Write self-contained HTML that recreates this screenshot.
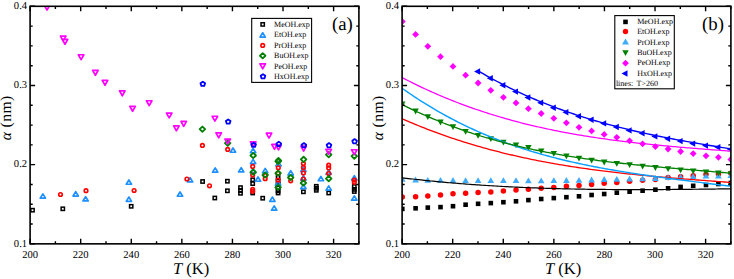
<!DOCTYPE html>
<html><head><meta charset="utf-8"><style>html,body{margin:0;padding:0;background:#fff;}body{width:734px;height:279px;overflow:hidden;font-family:"Liberation Serif",serif;}svg{display:block;}</style></head><body>
<svg width="734" height="279" viewBox="0 0 734 279" font-family='"Liberation Serif", serif' fill="#000" text-rendering="geometricPrecision">
<rect width="734" height="279" fill="#fff"/>
<defs><clipPath id="cl"><rect x="30.1" y="6.3" width="328.79999999999995" height="237.54999999999998"/></clipPath><clipPath id="cr"><rect x="402.1" y="6.3" width="328.79999999999995" height="237.54999999999998"/></clipPath></defs>
<g clip-path="url(#cl)">
<rect x="30.85" y="208.55" width="3.30" height="3.30" fill="none" stroke="#000000" stroke-width="1.5"/>
<rect x="61.15" y="207.15" width="3.30" height="3.30" fill="none" stroke="#000000" stroke-width="1.5"/>
<rect x="129.55" y="204.65" width="3.30" height="3.30" fill="none" stroke="#000000" stroke-width="1.5"/>
<rect x="200.95" y="179.85" width="3.30" height="3.30" fill="none" stroke="#000000" stroke-width="1.5"/>
<rect x="213.15" y="196.35" width="3.30" height="3.30" fill="none" stroke="#000000" stroke-width="1.5"/>
<rect x="225.75" y="179.55" width="3.30" height="3.30" fill="none" stroke="#000000" stroke-width="1.5"/>
<rect x="225.75" y="189.15" width="3.30" height="3.30" fill="none" stroke="#000000" stroke-width="1.5"/>
<rect x="238.85" y="185.95" width="3.30" height="3.30" fill="none" stroke="#000000" stroke-width="1.5"/>
<rect x="238.85" y="188.85" width="3.30" height="3.30" fill="none" stroke="#000000" stroke-width="1.5"/>
<rect x="238.85" y="191.65" width="3.30" height="3.30" fill="none" stroke="#000000" stroke-width="1.5"/>
<rect x="251.05" y="178.15" width="3.30" height="3.30" fill="none" stroke="#000000" stroke-width="1.5"/>
<rect x="251.05" y="181.95" width="3.30" height="3.30" fill="none" stroke="#000000" stroke-width="1.5"/>
<rect x="251.05" y="191.35" width="3.30" height="3.30" fill="none" stroke="#000000" stroke-width="1.5"/>
<rect x="261.05" y="196.55" width="3.30" height="3.30" fill="none" stroke="#000000" stroke-width="1.5"/>
<rect x="276.45" y="175.35" width="3.30" height="3.30" fill="none" stroke="#000000" stroke-width="1.5"/>
<rect x="276.45" y="179.35" width="3.30" height="3.30" fill="none" stroke="#000000" stroke-width="1.5"/>
<rect x="276.45" y="182.85" width="3.30" height="3.30" fill="none" stroke="#000000" stroke-width="1.5"/>
<rect x="276.45" y="186.35" width="3.30" height="3.30" fill="none" stroke="#000000" stroke-width="1.5"/>
<rect x="276.45" y="189.25" width="3.30" height="3.30" fill="none" stroke="#000000" stroke-width="1.5"/>
<rect x="276.45" y="191.35" width="3.30" height="3.30" fill="none" stroke="#000000" stroke-width="1.5"/>
<rect x="301.75" y="190.15" width="3.30" height="3.30" fill="none" stroke="#000000" stroke-width="1.5"/>
<rect x="314.65" y="184.65" width="3.30" height="3.30" fill="none" stroke="#000000" stroke-width="1.5"/>
<rect x="314.65" y="186.65" width="3.30" height="3.30" fill="none" stroke="#000000" stroke-width="1.5"/>
<rect x="314.65" y="188.65" width="3.30" height="3.30" fill="none" stroke="#000000" stroke-width="1.5"/>
<rect x="327.05" y="191.35" width="3.30" height="3.30" fill="none" stroke="#000000" stroke-width="1.5"/>
<rect x="352.65" y="184.85" width="3.30" height="3.30" fill="none" stroke="#000000" stroke-width="1.5"/>
<rect x="352.65" y="187.75" width="3.30" height="3.30" fill="none" stroke="#000000" stroke-width="1.5"/>
<rect x="352.65" y="189.85" width="3.30" height="3.30" fill="none" stroke="#000000" stroke-width="1.5"/>
<path d="M42.90,193.85L45.55,198.15L40.25,198.15Z" fill="none" stroke="#1e90ff" stroke-width="1.7" stroke-linejoin="round"/>
<path d="M75.70,191.75L78.35,196.05L73.05,196.05Z" fill="none" stroke="#1e90ff" stroke-width="1.7" stroke-linejoin="round"/>
<path d="M85.60,196.65L88.25,200.95L82.95,200.95Z" fill="none" stroke="#1e90ff" stroke-width="1.7" stroke-linejoin="round"/>
<path d="M128.90,179.95L131.55,184.25L126.25,184.25Z" fill="none" stroke="#1e90ff" stroke-width="1.7" stroke-linejoin="round"/>
<path d="M128.90,197.05L131.55,201.35L126.25,201.35Z" fill="none" stroke="#1e90ff" stroke-width="1.7" stroke-linejoin="round"/>
<path d="M180.00,191.95L182.65,196.25L177.35,196.25Z" fill="none" stroke="#1e90ff" stroke-width="1.7" stroke-linejoin="round"/>
<path d="M190.10,177.65L192.75,181.95L187.45,181.95Z" fill="none" stroke="#1e90ff" stroke-width="1.7" stroke-linejoin="round"/>
<path d="M215.20,167.85L217.85,172.15L212.55,172.15Z" fill="none" stroke="#1e90ff" stroke-width="1.7" stroke-linejoin="round"/>
<path d="M233.00,147.95L235.65,152.25L230.35,152.25Z" fill="none" stroke="#1e90ff" stroke-width="1.7" stroke-linejoin="round"/>
<path d="M241.20,167.65L243.85,171.95L238.55,171.95Z" fill="none" stroke="#1e90ff" stroke-width="1.7" stroke-linejoin="round"/>
<path d="M253.10,148.45L255.75,152.75L250.45,152.75Z" fill="none" stroke="#1e90ff" stroke-width="1.7" stroke-linejoin="round"/>
<path d="M253.10,159.35L255.75,163.65L250.45,163.65Z" fill="none" stroke="#1e90ff" stroke-width="1.7" stroke-linejoin="round"/>
<path d="M253.10,168.65L255.75,172.95L250.45,172.95Z" fill="none" stroke="#1e90ff" stroke-width="1.7" stroke-linejoin="round"/>
<path d="M258.00,176.95L260.65,181.25L255.35,181.25Z" fill="none" stroke="#1e90ff" stroke-width="1.7" stroke-linejoin="round"/>
<path d="M265.20,168.35L267.85,172.65L262.55,172.65Z" fill="none" stroke="#1e90ff" stroke-width="1.7" stroke-linejoin="round"/>
<path d="M272.40,197.05L275.05,201.35L269.75,201.35Z" fill="none" stroke="#1e90ff" stroke-width="1.7" stroke-linejoin="round"/>
<path d="M274.20,205.85L276.85,210.15L271.55,210.15Z" fill="none" stroke="#1e90ff" stroke-width="1.7" stroke-linejoin="round"/>
<path d="M278.50,161.65L281.15,165.95L275.85,165.95Z" fill="none" stroke="#1e90ff" stroke-width="1.7" stroke-linejoin="round"/>
<path d="M278.10,180.85L280.75,185.15L275.45,185.15Z" fill="none" stroke="#1e90ff" stroke-width="1.7" stroke-linejoin="round"/>
<path d="M290.70,170.75L293.35,175.05L288.05,175.05Z" fill="none" stroke="#1e90ff" stroke-width="1.7" stroke-linejoin="round"/>
<path d="M303.40,167.15L306.05,171.45L300.75,171.45Z" fill="none" stroke="#1e90ff" stroke-width="1.7" stroke-linejoin="round"/>
<path d="M303.40,175.75L306.05,180.05L300.75,180.05Z" fill="none" stroke="#1e90ff" stroke-width="1.7" stroke-linejoin="round"/>
<path d="M303.40,184.35L306.05,188.65L300.75,188.65Z" fill="none" stroke="#1e90ff" stroke-width="1.7" stroke-linejoin="round"/>
<path d="M320.90,176.45L323.55,180.75L318.25,180.75Z" fill="none" stroke="#1e90ff" stroke-width="1.7" stroke-linejoin="round"/>
<path d="M328.70,169.85L331.35,174.15L326.05,174.15Z" fill="none" stroke="#1e90ff" stroke-width="1.7" stroke-linejoin="round"/>
<path d="M328.70,185.85L331.35,190.15L326.05,190.15Z" fill="none" stroke="#1e90ff" stroke-width="1.7" stroke-linejoin="round"/>
<path d="M354.30,175.75L356.95,180.05L351.65,180.05Z" fill="none" stroke="#1e90ff" stroke-width="1.7" stroke-linejoin="round"/>
<path d="M354.30,195.85L356.95,200.15L351.65,200.15Z" fill="none" stroke="#1e90ff" stroke-width="1.7" stroke-linejoin="round"/>
<circle cx="60.50" cy="194.50" r="1.80" fill="none" stroke="#ff0000" stroke-width="1.6"/>
<circle cx="86.00" cy="190.70" r="1.80" fill="none" stroke="#ff0000" stroke-width="1.6"/>
<circle cx="134.10" cy="190.50" r="1.80" fill="none" stroke="#ff0000" stroke-width="1.6"/>
<circle cx="186.90" cy="179.00" r="1.80" fill="none" stroke="#ff0000" stroke-width="1.6"/>
<circle cx="202.40" cy="145.40" r="1.80" fill="none" stroke="#ff0000" stroke-width="1.6"/>
<circle cx="209.50" cy="185.80" r="1.80" fill="none" stroke="#ff0000" stroke-width="1.6"/>
<circle cx="227.70" cy="149.40" r="1.80" fill="none" stroke="#ff0000" stroke-width="1.6"/>
<circle cx="252.70" cy="166.40" r="1.80" fill="none" stroke="#ff0000" stroke-width="1.6"/>
<circle cx="252.70" cy="175.00" r="1.80" fill="none" stroke="#ff0000" stroke-width="1.6"/>
<circle cx="252.70" cy="189.40" r="1.80" fill="none" stroke="#ff0000" stroke-width="1.6"/>
<circle cx="252.70" cy="191.30" r="1.80" fill="none" stroke="#ff0000" stroke-width="1.6"/>
<circle cx="265.20" cy="175.50" r="1.80" fill="none" stroke="#ff0000" stroke-width="1.6"/>
<circle cx="265.20" cy="178.70" r="1.80" fill="none" stroke="#ff0000" stroke-width="1.6"/>
<circle cx="278.10" cy="161.00" r="1.80" fill="none" stroke="#ff0000" stroke-width="1.6"/>
<circle cx="278.30" cy="167.80" r="1.80" fill="none" stroke="#ff0000" stroke-width="1.6"/>
<circle cx="278.10" cy="173.20" r="1.80" fill="none" stroke="#ff0000" stroke-width="1.6"/>
<circle cx="278.10" cy="180.10" r="1.80" fill="none" stroke="#ff0000" stroke-width="1.6"/>
<circle cx="290.70" cy="180.80" r="1.80" fill="none" stroke="#ff0000" stroke-width="1.6"/>
<circle cx="303.40" cy="163.50" r="1.80" fill="none" stroke="#ff0000" stroke-width="1.6"/>
<circle cx="303.40" cy="167.40" r="1.80" fill="none" stroke="#ff0000" stroke-width="1.6"/>
<circle cx="303.40" cy="172.90" r="1.80" fill="none" stroke="#ff0000" stroke-width="1.6"/>
<circle cx="303.40" cy="179.10" r="1.80" fill="none" stroke="#ff0000" stroke-width="1.6"/>
<circle cx="328.70" cy="165.20" r="1.80" fill="none" stroke="#ff0000" stroke-width="1.6"/>
<circle cx="328.70" cy="167.90" r="1.80" fill="none" stroke="#ff0000" stroke-width="1.6"/>
<circle cx="328.70" cy="173.60" r="1.80" fill="none" stroke="#ff0000" stroke-width="1.6"/>
<circle cx="354.30" cy="180.10" r="1.80" fill="none" stroke="#ff0000" stroke-width="1.6"/>
<circle cx="354.30" cy="182.20" r="1.80" fill="none" stroke="#ff0000" stroke-width="1.6"/>
<path d="M202.40,126.55L205.15,129.20L202.40,131.85L199.65,129.20Z" fill="none" stroke="#008000" stroke-width="1.8" stroke-linejoin="round"/>
<path d="M227.70,140.55L230.45,143.20L227.70,145.85L224.95,143.20Z" fill="none" stroke="#008000" stroke-width="1.8" stroke-linejoin="round"/>
<path d="M253.20,152.85L255.95,155.50L253.20,158.15L250.45,155.50Z" fill="none" stroke="#008000" stroke-width="1.8" stroke-linejoin="round"/>
<path d="M253.20,169.55L255.95,172.20L253.20,174.85L250.45,172.20Z" fill="none" stroke="#008000" stroke-width="1.8" stroke-linejoin="round"/>
<path d="M265.20,172.35L267.95,175.00L265.20,177.65L262.45,175.00Z" fill="none" stroke="#008000" stroke-width="1.8" stroke-linejoin="round"/>
<path d="M278.50,157.95L281.25,160.60L278.50,163.25L275.75,160.60Z" fill="none" stroke="#008000" stroke-width="1.8" stroke-linejoin="round"/>
<path d="M278.10,158.75L280.85,161.40L278.10,164.05L275.35,161.40Z" fill="none" stroke="#008000" stroke-width="1.8" stroke-linejoin="round"/>
<path d="M278.10,170.55L280.85,173.20L278.10,175.85L275.35,173.20Z" fill="none" stroke="#008000" stroke-width="1.8" stroke-linejoin="round"/>
<path d="M278.10,184.65L280.85,187.30L278.10,189.95L275.35,187.30Z" fill="none" stroke="#008000" stroke-width="1.8" stroke-linejoin="round"/>
<path d="M290.70,174.85L293.45,177.50L290.70,180.15L287.95,177.50Z" fill="none" stroke="#008000" stroke-width="1.8" stroke-linejoin="round"/>
<path d="M303.60,156.75L306.35,159.40L303.60,162.05L300.85,159.40Z" fill="none" stroke="#008000" stroke-width="1.8" stroke-linejoin="round"/>
<path d="M303.40,180.35L306.15,183.00L303.40,185.65L300.65,183.00Z" fill="none" stroke="#008000" stroke-width="1.8" stroke-linejoin="round"/>
<path d="M328.70,152.05L331.45,154.70L328.70,157.35L325.95,154.70Z" fill="none" stroke="#008000" stroke-width="1.8" stroke-linejoin="round"/>
<path d="M328.70,175.95L331.45,178.60L328.70,181.25L325.95,178.60Z" fill="none" stroke="#008000" stroke-width="1.8" stroke-linejoin="round"/>
<path d="M354.30,153.45L357.05,156.10L354.30,158.75L351.55,156.10Z" fill="none" stroke="#008000" stroke-width="1.8" stroke-linejoin="round"/>
<path d="M44.25,5.15L49.75,5.15L47.00,10.05Z" fill="none" stroke="#ff00ff" stroke-width="1.7" stroke-linejoin="round"/>
<path d="M60.45,36.05L65.95,36.05L63.20,40.95Z" fill="none" stroke="#ff00ff" stroke-width="1.7" stroke-linejoin="round"/>
<path d="M62.25,39.35L67.75,39.35L65.00,44.25Z" fill="none" stroke="#ff00ff" stroke-width="1.7" stroke-linejoin="round"/>
<path d="M78.35,54.75L83.85,54.75L81.10,59.65Z" fill="none" stroke="#ff00ff" stroke-width="1.7" stroke-linejoin="round"/>
<path d="M92.65,70.35L98.15,70.35L95.40,75.25Z" fill="none" stroke="#ff00ff" stroke-width="1.7" stroke-linejoin="round"/>
<path d="M102.25,80.35L107.75,80.35L105.00,85.25Z" fill="none" stroke="#ff00ff" stroke-width="1.7" stroke-linejoin="round"/>
<path d="M119.55,90.85L125.05,90.85L122.30,95.75Z" fill="none" stroke="#ff00ff" stroke-width="1.7" stroke-linejoin="round"/>
<path d="M129.85,106.35L135.35,106.35L132.60,111.25Z" fill="none" stroke="#ff00ff" stroke-width="1.7" stroke-linejoin="round"/>
<path d="M146.45,100.75L151.95,100.75L149.20,105.65Z" fill="none" stroke="#ff00ff" stroke-width="1.7" stroke-linejoin="round"/>
<path d="M166.45,113.05L171.95,113.05L169.20,117.95Z" fill="none" stroke="#ff00ff" stroke-width="1.7" stroke-linejoin="round"/>
<path d="M173.65,125.95L179.15,125.95L176.40,130.85Z" fill="none" stroke="#ff00ff" stroke-width="1.7" stroke-linejoin="round"/>
<path d="M180.95,121.45L186.45,121.45L183.70,126.35Z" fill="none" stroke="#ff00ff" stroke-width="1.7" stroke-linejoin="round"/>
<path d="M212.15,116.25L217.65,116.25L214.90,121.15Z" fill="none" stroke="#ff00ff" stroke-width="1.7" stroke-linejoin="round"/>
<path d="M215.95,132.85L221.45,132.85L218.70,137.75Z" fill="none" stroke="#ff00ff" stroke-width="1.7" stroke-linejoin="round"/>
<path d="M224.95,139.05L230.45,139.05L227.70,143.95Z" fill="none" stroke="#ff00ff" stroke-width="1.7" stroke-linejoin="round"/>
<path d="M250.45,141.75L255.95,141.75L253.20,146.65Z" fill="none" stroke="#ff00ff" stroke-width="1.7" stroke-linejoin="round"/>
<path d="M266.25,133.15L271.75,133.15L269.00,138.05Z" fill="none" stroke="#ff00ff" stroke-width="1.7" stroke-linejoin="round"/>
<path d="M271.75,144.45L277.25,144.45L274.50,149.35Z" fill="none" stroke="#ff00ff" stroke-width="1.7" stroke-linejoin="round"/>
<path d="M275.75,145.05L281.25,145.05L278.50,149.95Z" fill="none" stroke="#ff00ff" stroke-width="1.7" stroke-linejoin="round"/>
<path d="M300.85,146.15L306.35,146.15L303.60,151.05Z" fill="none" stroke="#ff00ff" stroke-width="1.7" stroke-linejoin="round"/>
<path d="M325.95,149.35L331.45,149.35L328.70,154.25Z" fill="none" stroke="#ff00ff" stroke-width="1.7" stroke-linejoin="round"/>
<path d="M351.55,149.75L357.05,149.75L354.30,154.65Z" fill="none" stroke="#ff00ff" stroke-width="1.7" stroke-linejoin="round"/>
<path d="M202.80,81.67L205.13,83.28L204.24,85.88L201.36,85.88L200.47,83.28Z" fill="none" stroke="#0000ff" stroke-width="1.8" stroke-linejoin="round"/>
<path d="M228.20,119.47L230.53,121.08L229.64,123.68L226.76,123.68L225.87,121.08Z" fill="none" stroke="#0000ff" stroke-width="1.8" stroke-linejoin="round"/>
<path d="M253.60,142.67L255.93,144.28L255.04,146.88L252.16,146.88L251.27,144.28Z" fill="none" stroke="#0000ff" stroke-width="1.8" stroke-linejoin="round"/>
<path d="M278.80,141.77L281.13,143.38L280.24,145.98L277.36,145.98L276.47,143.38Z" fill="none" stroke="#0000ff" stroke-width="1.8" stroke-linejoin="round"/>
<path d="M303.90,143.07L306.23,144.68L305.34,147.28L302.46,147.28L301.57,144.68Z" fill="none" stroke="#0000ff" stroke-width="1.8" stroke-linejoin="round"/>
<path d="M329.00,143.07L331.33,144.68L330.44,147.28L327.56,147.28L326.67,144.68Z" fill="none" stroke="#0000ff" stroke-width="1.8" stroke-linejoin="round"/>
<path d="M354.60,139.07L356.93,140.68L356.04,143.28L353.16,143.28L352.27,140.68Z" fill="none" stroke="#0000ff" stroke-width="1.8" stroke-linejoin="round"/>
</g>
<g clip-path="url(#cr)">
<rect x="400.00" y="206.60" width="4.60" height="4.60" fill="#000000"/>
<rect x="413.30" y="206.00" width="4.60" height="4.60" fill="#000000"/>
<rect x="425.50" y="205.30" width="4.60" height="4.60" fill="#000000"/>
<rect x="438.20" y="204.80" width="4.60" height="4.60" fill="#000000"/>
<rect x="450.70" y="203.90" width="4.60" height="4.60" fill="#000000"/>
<rect x="463.30" y="202.40" width="4.60" height="4.60" fill="#000000"/>
<rect x="475.80" y="201.50" width="4.60" height="4.60" fill="#000000"/>
<rect x="488.50" y="200.80" width="4.60" height="4.60" fill="#000000"/>
<rect x="501.10" y="199.90" width="4.60" height="4.60" fill="#000000"/>
<rect x="513.70" y="199.00" width="4.60" height="4.60" fill="#000000"/>
<rect x="526.10" y="197.80" width="4.60" height="4.60" fill="#000000"/>
<rect x="538.90" y="196.70" width="4.60" height="4.60" fill="#000000"/>
<rect x="551.50" y="195.80" width="4.60" height="4.60" fill="#000000"/>
<rect x="564.10" y="194.90" width="4.60" height="4.60" fill="#000000"/>
<rect x="576.70" y="194.00" width="4.60" height="4.60" fill="#000000"/>
<rect x="589.30" y="192.70" width="4.60" height="4.60" fill="#000000"/>
<rect x="601.90" y="191.70" width="4.60" height="4.60" fill="#000000"/>
<rect x="614.50" y="190.40" width="4.60" height="4.60" fill="#000000"/>
<rect x="627.30" y="189.40" width="4.60" height="4.60" fill="#000000"/>
<rect x="640.30" y="188.40" width="4.60" height="4.60" fill="#000000"/>
<rect x="653.10" y="187.40" width="4.60" height="4.60" fill="#000000"/>
<rect x="665.80" y="186.00" width="4.60" height="4.60" fill="#000000"/>
<rect x="678.30" y="184.60" width="4.60" height="4.60" fill="#000000"/>
<rect x="690.90" y="183.50" width="4.60" height="4.60" fill="#000000"/>
<rect x="703.70" y="182.70" width="4.60" height="4.60" fill="#000000"/>
<rect x="716.10" y="181.70" width="4.60" height="4.60" fill="#000000"/>
<rect x="728.50" y="180.70" width="4.60" height="4.60" fill="#000000"/>
<circle cx="402.30" cy="196.90" r="2.75" fill="#ff0000"/>
<circle cx="415.60" cy="196.80" r="2.75" fill="#ff0000"/>
<circle cx="427.80" cy="195.90" r="2.75" fill="#ff0000"/>
<circle cx="440.50" cy="195.00" r="2.75" fill="#ff0000"/>
<circle cx="453.00" cy="193.70" r="2.75" fill="#ff0000"/>
<circle cx="465.60" cy="193.20" r="2.75" fill="#ff0000"/>
<circle cx="478.10" cy="192.40" r="2.75" fill="#ff0000"/>
<circle cx="490.80" cy="191.90" r="2.75" fill="#ff0000"/>
<circle cx="503.40" cy="191.00" r="2.75" fill="#ff0000"/>
<circle cx="516.00" cy="190.10" r="2.75" fill="#ff0000"/>
<circle cx="528.40" cy="189.30" r="2.75" fill="#ff0000"/>
<circle cx="541.20" cy="188.30" r="2.75" fill="#ff0000"/>
<circle cx="553.80" cy="187.40" r="2.75" fill="#ff0000"/>
<circle cx="566.40" cy="186.20" r="2.75" fill="#ff0000"/>
<circle cx="579.00" cy="185.60" r="2.75" fill="#ff0000"/>
<circle cx="591.60" cy="184.40" r="2.75" fill="#ff0000"/>
<circle cx="604.20" cy="183.30" r="2.75" fill="#ff0000"/>
<circle cx="616.80" cy="182.60" r="2.75" fill="#ff0000"/>
<circle cx="629.60" cy="181.20" r="2.75" fill="#ff0000"/>
<circle cx="642.60" cy="180.20" r="2.75" fill="#ff0000"/>
<circle cx="655.40" cy="179.60" r="2.75" fill="#ff0000"/>
<circle cx="668.10" cy="177.50" r="2.75" fill="#ff0000"/>
<circle cx="680.60" cy="176.80" r="2.75" fill="#ff0000"/>
<circle cx="693.20" cy="175.80" r="2.75" fill="#ff0000"/>
<circle cx="706.00" cy="174.30" r="2.75" fill="#ff0000"/>
<circle cx="718.40" cy="174.00" r="2.75" fill="#ff0000"/>
<circle cx="730.80" cy="173.20" r="2.75" fill="#ff0000"/>
<path d="M402.30,175.90L405.65,181.70L398.95,181.70Z" fill="#40abfa"/>
<path d="M415.60,176.60L418.95,182.40L412.25,182.40Z" fill="#40abfa"/>
<path d="M427.80,176.90L431.15,182.70L424.45,182.70Z" fill="#40abfa"/>
<path d="M440.50,177.00L443.85,182.80L437.15,182.80Z" fill="#40abfa"/>
<path d="M453.00,177.10L456.35,182.90L449.65,182.90Z" fill="#40abfa"/>
<path d="M465.60,177.20L468.95,183.00L462.25,183.00Z" fill="#40abfa"/>
<path d="M478.10,177.30L481.45,183.10L474.75,183.10Z" fill="#40abfa"/>
<path d="M490.80,177.30L494.15,183.10L487.45,183.10Z" fill="#40abfa"/>
<path d="M503.40,177.30L506.75,183.10L500.05,183.10Z" fill="#40abfa"/>
<path d="M516.00,177.30L519.35,183.10L512.65,183.10Z" fill="#40abfa"/>
<path d="M528.40,177.50L531.75,183.30L525.05,183.30Z" fill="#40abfa"/>
<path d="M541.20,177.50L544.55,183.30L537.85,183.30Z" fill="#40abfa"/>
<path d="M553.80,177.30L557.15,183.10L550.45,183.10Z" fill="#40abfa"/>
<path d="M566.40,177.10L569.75,182.90L563.05,182.90Z" fill="#40abfa"/>
<path d="M579.00,176.90L582.35,182.70L575.65,182.70Z" fill="#40abfa"/>
<path d="M591.60,176.60L594.95,182.40L588.25,182.40Z" fill="#40abfa"/>
<path d="M604.20,176.10L607.55,181.90L600.85,181.90Z" fill="#40abfa"/>
<path d="M616.80,175.90L620.15,181.70L613.45,181.70Z" fill="#40abfa"/>
<path d="M629.60,175.60L632.95,181.40L626.25,181.40Z" fill="#40abfa"/>
<path d="M642.60,175.40L645.95,181.20L639.25,181.20Z" fill="#40abfa"/>
<path d="M655.40,175.10L658.75,180.90L652.05,180.90Z" fill="#40abfa"/>
<path d="M668.10,174.30L671.45,180.10L664.75,180.10Z" fill="#40abfa"/>
<path d="M680.60,173.70L683.95,179.50L677.25,179.50Z" fill="#40abfa"/>
<path d="M693.20,173.30L696.55,179.10L689.85,179.10Z" fill="#40abfa"/>
<path d="M706.00,172.80L709.35,178.60L702.65,178.60Z" fill="#40abfa"/>
<path d="M718.40,172.60L721.75,178.40L715.05,178.40Z" fill="#40abfa"/>
<path d="M730.80,172.30L734.15,178.10L727.45,178.10Z" fill="#40abfa"/>
<path d="M399.10,101.40L405.50,101.40L402.30,107.20Z" fill="#008000"/>
<path d="M412.40,108.60L418.80,108.60L415.60,114.40Z" fill="#008000"/>
<path d="M424.60,114.20L431.00,114.20L427.80,120.00Z" fill="#008000"/>
<path d="M437.30,119.60L443.70,119.60L440.50,125.40Z" fill="#008000"/>
<path d="M449.80,124.20L456.20,124.20L453.00,130.00Z" fill="#008000"/>
<path d="M462.40,129.00L468.80,129.00L465.60,134.80Z" fill="#008000"/>
<path d="M474.90,133.00L481.30,133.00L478.10,138.80Z" fill="#008000"/>
<path d="M487.60,136.30L494.00,136.30L490.80,142.10Z" fill="#008000"/>
<path d="M500.20,139.80L506.60,139.80L503.40,145.60Z" fill="#008000"/>
<path d="M512.80,142.50L519.20,142.50L516.00,148.30Z" fill="#008000"/>
<path d="M525.20,145.00L531.60,145.00L528.40,150.80Z" fill="#008000"/>
<path d="M538.00,148.50L544.40,148.50L541.20,154.30Z" fill="#008000"/>
<path d="M550.60,151.00L557.00,151.00L553.80,156.80Z" fill="#008000"/>
<path d="M563.20,153.40L569.60,153.40L566.40,159.20Z" fill="#008000"/>
<path d="M575.80,155.70L582.20,155.70L579.00,161.50Z" fill="#008000"/>
<path d="M588.40,157.80L594.80,157.80L591.60,163.60Z" fill="#008000"/>
<path d="M601.00,159.60L607.40,159.60L604.20,165.40Z" fill="#008000"/>
<path d="M613.60,161.00L620.00,161.00L616.80,166.80Z" fill="#008000"/>
<path d="M626.40,162.20L632.80,162.20L629.60,168.00Z" fill="#008000"/>
<path d="M639.40,163.70L645.80,163.70L642.60,169.50Z" fill="#008000"/>
<path d="M652.20,165.10L658.60,165.10L655.40,170.90Z" fill="#008000"/>
<path d="M664.90,166.30L671.30,166.30L668.10,172.10Z" fill="#008000"/>
<path d="M677.40,167.50L683.80,167.50L680.60,173.30Z" fill="#008000"/>
<path d="M690.00,168.50L696.40,168.50L693.20,174.30Z" fill="#008000"/>
<path d="M702.80,169.40L709.20,169.40L706.00,175.20Z" fill="#008000"/>
<path d="M715.20,170.40L721.60,170.40L718.40,176.20Z" fill="#008000"/>
<path d="M727.60,171.20L734.00,171.20L730.80,177.00Z" fill="#008000"/>
<path d="M402.30,18.10L405.70,21.50L402.30,24.90L398.90,21.50Z" fill="#ff00ff"/>
<path d="M415.60,31.00L419.00,34.40L415.60,37.80L412.20,34.40Z" fill="#ff00ff"/>
<path d="M427.80,42.90L431.20,46.30L427.80,49.70L424.40,46.30Z" fill="#ff00ff"/>
<path d="M440.50,53.30L443.90,56.70L440.50,60.10L437.10,56.70Z" fill="#ff00ff"/>
<path d="M453.00,63.00L456.40,66.40L453.00,69.80L449.60,66.40Z" fill="#ff00ff"/>
<path d="M465.60,71.80L469.00,75.20L465.60,78.60L462.20,75.20Z" fill="#ff00ff"/>
<path d="M478.10,79.60L481.50,83.00L478.10,86.40L474.70,83.00Z" fill="#ff00ff"/>
<path d="M490.80,86.90L494.20,90.30L490.80,93.70L487.40,90.30Z" fill="#ff00ff"/>
<path d="M503.40,93.90L506.80,97.30L503.40,100.70L500.00,97.30Z" fill="#ff00ff"/>
<path d="M516.00,99.50L519.40,102.90L516.00,106.30L512.60,102.90Z" fill="#ff00ff"/>
<path d="M528.40,105.30L531.80,108.70L528.40,112.10L525.00,108.70Z" fill="#ff00ff"/>
<path d="M541.20,110.10L544.60,113.50L541.20,116.90L537.80,113.50Z" fill="#ff00ff"/>
<path d="M553.80,114.90L557.20,118.30L553.80,121.70L550.40,118.30Z" fill="#ff00ff"/>
<path d="M566.40,119.40L569.80,122.80L566.40,126.20L563.00,122.80Z" fill="#ff00ff"/>
<path d="M579.00,123.90L582.40,127.30L579.00,130.70L575.60,127.30Z" fill="#ff00ff"/>
<path d="M591.60,127.50L595.00,130.90L591.60,134.30L588.20,130.90Z" fill="#ff00ff"/>
<path d="M604.20,131.00L607.60,134.40L604.20,137.80L600.80,134.40Z" fill="#ff00ff"/>
<path d="M616.80,133.90L620.20,137.30L616.80,140.70L613.40,137.30Z" fill="#ff00ff"/>
<path d="M629.60,137.40L633.00,140.80L629.60,144.20L626.20,140.80Z" fill="#ff00ff"/>
<path d="M642.60,140.40L646.00,143.80L642.60,147.20L639.20,143.80Z" fill="#ff00ff"/>
<path d="M655.40,143.20L658.80,146.60L655.40,150.00L652.00,146.60Z" fill="#ff00ff"/>
<path d="M668.10,145.60L671.50,149.00L668.10,152.40L664.70,149.00Z" fill="#ff00ff"/>
<path d="M680.60,148.10L684.00,151.50L680.60,154.90L677.20,151.50Z" fill="#ff00ff"/>
<path d="M693.20,150.20L696.60,153.60L693.20,157.00L689.80,153.60Z" fill="#ff00ff"/>
<path d="M706.00,152.40L709.40,155.80L706.00,159.20L702.60,155.80Z" fill="#ff00ff"/>
<path d="M718.40,153.90L721.80,157.30L718.40,160.70L715.00,157.30Z" fill="#ff00ff"/>
<path d="M730.80,156.00L734.20,159.40L730.80,162.80L727.40,159.40Z" fill="#ff00ff"/>
<path d="M474.10,71.50L480.10,68.30L480.10,74.70Z" fill="#0000ff"/>
<path d="M486.80,78.30L492.80,75.10L492.80,81.50Z" fill="#0000ff"/>
<path d="M499.40,85.20L505.40,82.00L505.40,88.40Z" fill="#0000ff"/>
<path d="M512.00,91.60L518.00,88.40L518.00,94.80Z" fill="#0000ff"/>
<path d="M524.40,97.50L530.40,94.30L530.40,100.70Z" fill="#0000ff"/>
<path d="M537.20,102.80L543.20,99.60L543.20,106.00Z" fill="#0000ff"/>
<path d="M549.80,107.80L555.80,104.60L555.80,111.00Z" fill="#0000ff"/>
<path d="M562.40,112.30L568.40,109.10L568.40,115.50Z" fill="#0000ff"/>
<path d="M575.00,116.20L581.00,113.00L581.00,119.40Z" fill="#0000ff"/>
<path d="M587.60,119.80L593.60,116.60L593.60,123.00Z" fill="#0000ff"/>
<path d="M600.20,123.40L606.20,120.20L606.20,126.60Z" fill="#0000ff"/>
<path d="M612.80,127.00L618.80,123.80L618.80,130.20Z" fill="#0000ff"/>
<path d="M625.60,130.40L631.60,127.20L631.60,133.60Z" fill="#0000ff"/>
<path d="M638.60,133.20L644.60,130.00L644.60,136.40Z" fill="#0000ff"/>
<path d="M651.40,136.40L657.40,133.20L657.40,139.60Z" fill="#0000ff"/>
<path d="M664.10,138.70L670.10,135.50L670.10,141.90Z" fill="#0000ff"/>
<path d="M676.60,141.10L682.60,137.90L682.60,144.30Z" fill="#0000ff"/>
<path d="M689.20,143.60L695.20,140.40L695.20,146.80Z" fill="#0000ff"/>
<path d="M702.00,145.60L708.00,142.40L708.00,148.80Z" fill="#0000ff"/>
<path d="M714.40,147.30L720.40,144.10L720.40,150.50Z" fill="#0000ff"/>
<path d="M726.80,149.20L732.80,146.00L732.80,152.40Z" fill="#0000ff"/>
<path d="M402.10,177.80L404.17,178.05L406.24,178.30L408.30,178.54L410.37,178.78L412.44,179.02L414.51,179.25L416.58,179.48L418.64,179.71L420.71,179.93L422.78,180.15L424.85,180.37L426.92,180.58L428.98,180.79L431.05,181.00L433.12,181.21L435.19,181.41L437.25,181.61L439.32,181.80L441.39,181.99L443.46,182.18L445.53,182.37L447.59,182.55L449.66,182.74L451.73,182.91L453.80,183.09L455.87,183.26L457.93,183.43L460.00,183.60L462.07,183.76L464.14,183.92L466.21,184.08L468.27,184.24L470.34,184.39L472.41,184.54L474.48,184.69L476.55,184.83L478.61,184.97L480.68,185.11L482.75,185.25L484.82,185.38L486.88,185.52L488.95,185.65L491.02,185.77L493.09,185.90L495.16,186.02L497.22,186.14L499.29,186.26L501.36,186.37L503.43,186.48L505.50,186.59L507.56,186.70L509.63,186.81L511.70,186.91L513.77,187.01L515.84,187.11L517.90,187.20L519.97,187.30L522.04,187.39L524.11,187.48L526.18,187.57L528.24,187.65L530.31,187.73L532.38,187.81L534.45,187.89L536.52,187.97L538.58,188.04L540.65,188.12L542.72,188.19L544.79,188.26L546.85,188.32L548.92,188.39L550.99,188.45L553.06,188.51L555.13,188.57L557.19,188.63L559.26,188.68L561.33,188.74L563.40,188.79L565.47,188.84L567.53,188.89L569.60,188.93L571.67,188.98L573.74,189.02L575.81,189.06L577.87,189.10L579.94,189.14L582.01,189.18L584.08,189.21L586.15,189.24L588.21,189.28L590.28,189.31L592.35,189.33L594.42,189.36L596.48,189.39L598.55,189.41L600.62,189.43L602.69,189.45L604.76,189.47L606.82,189.49L608.89,189.51L610.96,189.52L613.03,189.54L615.10,189.55L617.16,189.56L619.23,189.57L621.30,189.58L623.37,189.59L625.44,189.60L627.50,189.60L629.57,189.61L631.64,189.61L633.71,189.61L635.78,189.61L637.84,189.61L639.91,189.61L641.98,189.61L644.05,189.61L646.12,189.60L648.18,189.60L650.25,189.59L652.32,189.58L654.39,189.58L656.45,189.57L658.52,189.56L660.59,189.55L662.66,189.53L664.73,189.52L666.79,189.51L668.86,189.49L670.93,189.48L673.00,189.46L675.07,189.45L677.13,189.43L679.20,189.41L681.27,189.39L683.34,189.38L685.41,189.36L687.47,189.34L689.54,189.31L691.61,189.29L693.68,189.27L695.75,189.25L697.81,189.23L699.88,189.20L701.95,189.18L704.02,189.15L706.08,189.13L708.15,189.10L710.22,189.08L712.29,189.05L714.36,189.03L716.42,189.00L718.49,188.97L720.56,188.94L722.63,188.92L724.70,188.89L726.76,188.86L728.83,188.83L730.90,188.80" stroke="#000" stroke-width="1.2" fill="none"/>
<path d="M402.10,118.74L404.17,119.65L406.24,120.55L408.30,121.44L410.37,122.32L412.44,123.19L414.51,124.05L416.58,124.91L418.64,125.75L420.71,126.58L422.78,127.41L424.85,128.22L426.92,129.03L428.98,129.83L431.05,130.61L433.12,131.39L435.19,132.16L437.25,132.92L439.32,133.68L441.39,134.42L443.46,135.16L445.53,135.88L447.59,136.60L449.66,137.31L451.73,138.01L453.80,138.71L455.87,139.39L457.93,140.07L460.00,140.74L462.07,141.40L464.14,142.05L466.21,142.69L468.27,143.33L470.34,143.96L472.41,144.58L474.48,145.20L476.55,145.80L478.61,146.40L480.68,146.99L482.75,147.58L484.82,148.15L486.88,148.72L488.95,149.28L491.02,149.84L493.09,150.38L495.16,150.93L497.22,151.46L499.29,151.99L501.36,152.51L503.43,153.02L505.50,153.53L507.56,154.02L509.63,154.52L511.70,155.00L513.77,155.48L515.84,155.96L517.90,156.43L519.97,156.89L522.04,157.34L524.11,157.79L526.18,158.23L528.24,158.67L530.31,159.10L532.38,159.53L534.45,159.94L536.52,160.36L538.58,160.77L540.65,161.17L542.72,161.56L544.79,161.95L546.85,162.34L548.92,162.72L550.99,163.09L553.06,163.46L555.13,163.83L557.19,164.19L559.26,164.54L561.33,164.89L563.40,165.23L565.47,165.57L567.53,165.91L569.60,166.24L571.67,166.56L573.74,166.88L575.81,167.20L577.87,167.51L579.94,167.81L582.01,168.12L584.08,168.41L586.15,168.71L588.21,169.00L590.28,169.28L592.35,169.56L594.42,169.84L596.48,170.11L598.55,170.38L600.62,170.65L602.69,170.91L604.76,171.17L606.82,171.42L608.89,171.68L610.96,171.92L613.03,172.17L615.10,172.41L617.16,172.65L619.23,172.88L621.30,173.11L623.37,173.34L625.44,173.56L627.50,173.79L629.57,174.00L631.64,174.22L633.71,174.43L635.78,174.64L637.84,174.85L639.91,175.06L641.98,175.26L644.05,175.46L646.12,175.66L648.18,175.85L650.25,176.05L652.32,176.24L654.39,176.43L656.45,176.61L658.52,176.80L660.59,176.98L662.66,177.16L664.73,177.34L666.79,177.52L668.86,177.69L670.93,177.87L673.00,178.04L675.07,178.21L677.13,178.38L679.20,178.54L681.27,178.71L683.34,178.88L685.41,179.04L687.47,179.20L689.54,179.36L691.61,179.52L693.68,179.68L695.75,179.84L697.81,180.00L699.88,180.16L701.95,180.31L704.02,180.47L706.08,180.62L708.15,180.78L710.22,180.93L712.29,181.09L714.36,181.24L716.42,181.39L718.49,181.54L720.56,181.70L722.63,181.85L724.70,182.00L726.76,182.15L728.83,182.31L730.90,182.46" stroke="#ff0000" stroke-width="1.3" fill="none"/>
<path d="M402.10,88.26L404.17,89.72L406.24,91.17L408.30,92.60L410.37,94.01L412.44,95.41L414.51,96.78L416.58,98.15L418.64,99.49L420.71,100.82L422.78,102.13L424.85,103.42L426.92,104.70L428.98,105.97L431.05,107.21L433.12,108.44L435.19,109.66L437.25,110.86L439.32,112.05L441.39,113.22L443.46,114.37L445.53,115.51L447.59,116.64L449.66,117.75L451.73,118.84L453.80,119.92L455.87,120.99L457.93,122.04L460.00,123.08L462.07,124.10L464.14,125.12L466.21,126.11L468.27,127.10L470.34,128.07L472.41,129.02L474.48,129.97L476.55,130.90L478.61,131.82L480.68,132.72L482.75,133.61L484.82,134.49L486.88,135.36L488.95,136.22L491.02,137.06L493.09,137.89L495.16,138.71L497.22,139.52L499.29,140.32L501.36,141.10L503.43,141.87L505.50,142.64L507.56,143.39L509.63,144.13L511.70,144.86L513.77,145.58L515.84,146.28L517.90,146.98L519.97,147.67L522.04,148.35L524.11,149.02L526.18,149.67L528.24,150.32L530.31,150.96L532.38,151.59L534.45,152.21L536.52,152.82L538.58,153.42L540.65,154.01L542.72,154.59L544.79,155.17L546.85,155.73L548.92,156.29L550.99,156.84L553.06,157.38L555.13,157.91L557.19,158.44L559.26,158.96L561.33,159.46L563.40,159.97L565.47,160.46L567.53,160.95L569.60,161.43L571.67,161.90L573.74,162.37L575.81,162.83L577.87,163.28L579.94,163.72L582.01,164.16L584.08,164.60L586.15,165.03L588.21,165.45L590.28,165.86L592.35,166.27L594.42,166.68L596.48,167.08L598.55,167.47L600.62,167.86L602.69,168.24L604.76,168.62L606.82,168.99L608.89,169.36L610.96,169.72L613.03,170.08L615.10,170.44L617.16,170.79L619.23,171.13L621.30,171.48L623.37,171.81L625.44,172.15L627.50,172.48L629.57,172.80L631.64,173.13L633.71,173.45L635.78,173.76L637.84,174.07L639.91,174.38L641.98,174.69L644.05,174.99L646.12,175.29L648.18,175.59L650.25,175.88L652.32,176.18L654.39,176.47L656.45,176.75L658.52,177.04L660.59,177.32L662.66,177.60L664.73,177.88L666.79,178.15L668.86,178.43L670.93,178.70L673.00,178.97L675.07,179.24L677.13,179.51L679.20,179.78L681.27,180.04L683.34,180.31L685.41,180.57L687.47,180.83L689.54,181.09L691.61,181.36L693.68,181.62L695.75,181.88L697.81,182.14L699.88,182.39L701.95,182.65L704.02,182.91L706.08,183.17L708.15,183.43L710.22,183.69L712.29,183.95L714.36,184.21L716.42,184.47L718.49,184.73L720.56,184.99L722.63,185.26L724.70,185.52L726.76,185.79L728.83,186.05L730.90,186.32" stroke="#0aa0ff" stroke-width="1.45" fill="none"/>
<path d="M402.10,104.59L404.17,105.62L406.24,106.63L408.30,107.64L410.37,108.64L412.44,109.62L414.51,110.59L416.58,111.55L418.64,112.50L420.71,113.43L422.78,114.36L424.85,115.27L426.92,116.17L428.98,117.07L431.05,117.95L433.12,118.82L435.19,119.68L437.25,120.52L439.32,121.36L441.39,122.19L443.46,123.00L445.53,123.81L447.59,124.60L449.66,125.39L451.73,126.17L453.80,126.93L455.87,127.69L457.93,128.43L460.00,129.17L462.07,129.89L464.14,130.61L466.21,131.31L468.27,132.01L470.34,132.70L472.41,133.38L474.48,134.04L476.55,134.70L478.61,135.35L480.68,136.00L482.75,136.63L484.82,137.25L486.88,137.87L488.95,138.48L491.02,139.07L493.09,139.66L495.16,140.24L497.22,140.82L499.29,141.38L501.36,141.94L503.43,142.49L505.50,143.03L507.56,143.56L509.63,144.09L511.70,144.60L513.77,145.11L515.84,145.62L517.90,146.11L519.97,146.60L522.04,147.08L524.11,147.55L526.18,148.02L528.24,148.48L530.31,148.93L532.38,149.37L534.45,149.81L536.52,150.24L538.58,150.67L540.65,151.09L542.72,151.50L544.79,151.90L546.85,152.30L548.92,152.70L550.99,153.09L553.06,153.47L555.13,153.84L557.19,154.21L559.26,154.58L561.33,154.93L563.40,155.29L565.47,155.63L567.53,155.98L569.60,156.31L571.67,156.64L573.74,156.97L575.81,157.29L577.87,157.61L579.94,157.92L582.01,158.23L584.08,158.53L586.15,158.83L588.21,159.12L590.28,159.41L592.35,159.69L594.42,159.97L596.48,160.25L598.55,160.52L600.62,160.78L602.69,161.05L604.76,161.31L606.82,161.56L608.89,161.81L610.96,162.06L613.03,162.31L615.10,162.55L617.16,162.79L619.23,163.02L621.30,163.25L623.37,163.48L625.44,163.71L627.50,163.93L629.57,164.15L631.64,164.37L633.71,164.58L635.78,164.80L637.84,165.00L639.91,165.21L641.98,165.42L644.05,165.62L646.12,165.82L648.18,166.02L650.25,166.21L652.32,166.41L654.39,166.60L656.45,166.79L658.52,166.98L660.59,167.17L662.66,167.36L664.73,167.54L666.79,167.72L668.86,167.91L670.93,168.09L673.00,168.27L675.07,168.45L677.13,168.63L679.20,168.80L681.27,168.98L683.34,169.16L685.41,169.33L687.47,169.51L689.54,169.68L691.61,169.86L693.68,170.03L695.75,170.21L697.81,170.38L699.88,170.56L701.95,170.73L704.02,170.90L706.08,171.08L708.15,171.26L710.22,171.43L712.29,171.61L714.36,171.79L716.42,171.96L718.49,172.14L720.56,172.32L722.63,172.50L724.70,172.69L726.76,172.87L728.83,173.05L730.90,173.24" stroke="#008000" stroke-width="1.3" fill="none"/>
<path d="M402.10,77.58L404.17,78.66L406.24,79.72L408.30,80.77L410.37,81.81L412.44,82.84L414.51,83.86L416.58,84.87L418.64,85.87L420.71,86.85L422.78,87.83L424.85,88.79L426.92,89.74L428.98,90.68L431.05,91.61L433.12,92.53L435.19,93.44L437.25,94.34L439.32,95.23L441.39,96.10L443.46,96.97L445.53,97.83L447.59,98.68L449.66,99.51L451.73,100.34L453.80,101.16L455.87,101.96L457.93,102.76L460.00,103.55L462.07,104.32L464.14,105.09L466.21,105.85L468.27,106.60L470.34,107.34L472.41,108.07L474.48,108.79L476.55,109.50L478.61,110.21L480.68,110.90L482.75,111.59L484.82,112.26L486.88,112.93L488.95,113.59L491.02,114.24L493.09,114.88L495.16,115.52L497.22,116.14L499.29,116.76L501.36,117.37L503.43,117.97L505.50,118.56L507.56,119.14L509.63,119.72L511.70,120.29L513.77,120.85L515.84,121.40L517.90,121.95L519.97,122.49L522.04,123.02L524.11,123.54L526.18,124.05L528.24,124.56L530.31,125.06L532.38,125.56L534.45,126.04L536.52,126.52L538.58,127.00L540.65,127.46L542.72,127.92L544.79,128.38L546.85,128.82L548.92,129.26L550.99,129.70L553.06,130.12L555.13,130.54L557.19,130.96L559.26,131.37L561.33,131.77L563.40,132.16L565.47,132.55L567.53,132.94L569.60,133.32L571.67,133.69L573.74,134.06L575.81,134.42L577.87,134.78L579.94,135.13L582.01,135.47L584.08,135.81L586.15,136.15L588.21,136.48L590.28,136.80L592.35,137.12L594.42,137.44L596.48,137.75L598.55,138.05L600.62,138.36L602.69,138.65L604.76,138.94L606.82,139.23L608.89,139.51L610.96,139.79L613.03,140.07L615.10,140.34L617.16,140.60L619.23,140.87L621.30,141.13L623.37,141.38L625.44,141.63L627.50,141.88L629.57,142.12L631.64,142.36L633.71,142.60L635.78,142.83L637.84,143.06L639.91,143.29L641.98,143.51L644.05,143.73L646.12,143.95L648.18,144.16L650.25,144.38L652.32,144.59L654.39,144.79L656.45,144.99L658.52,145.20L660.59,145.39L662.66,145.59L664.73,145.78L666.79,145.98L668.86,146.16L670.93,146.35L673.00,146.54L675.07,146.72L677.13,146.90L679.20,147.08L681.27,147.26L683.34,147.43L685.41,147.61L687.47,147.78L689.54,147.95L691.61,148.12L693.68,148.29L695.75,148.46L697.81,148.62L699.88,148.79L701.95,148.95L704.02,149.12L706.08,149.28L708.15,149.44L710.22,149.60L712.29,149.76L714.36,149.92L716.42,150.08L718.49,150.24L720.56,150.40L722.63,150.56L724.70,150.72L726.76,150.87L728.83,151.03L730.90,151.19" stroke="#ff00ff" stroke-width="1.25" fill="none"/>
<path d="M477.50,70.51L480.71,72.38L483.92,74.22L487.12,76.02L490.33,77.80L493.54,79.54L496.75,81.25L499.95,82.93L503.16,84.58L506.37,86.20L509.58,87.79L512.78,89.35L515.99,90.88L519.20,92.38L522.41,93.86L525.61,95.31L528.82,96.73L532.03,98.12L535.24,99.49L538.44,100.83L541.65,102.15L544.86,103.44L548.07,104.71L551.27,105.95L554.48,107.17L557.69,108.36L560.90,109.53L564.11,110.68L567.31,111.80L570.52,112.91L573.73,113.99L576.94,115.05L580.14,116.09L583.35,117.11L586.56,118.11L589.77,119.09L592.97,120.05L596.18,120.99L599.39,121.92L602.60,122.82L605.80,123.71L609.01,124.58L612.22,125.44L615.43,126.27L618.63,127.10L621.84,127.90L625.05,128.69L628.26,129.47L631.46,130.23L634.67,130.98L637.88,131.71L641.09,132.43L644.29,133.14L647.50,133.84L650.71,134.52L653.92,135.19L657.13,135.85L660.33,136.50L663.54,137.14L666.75,137.77L669.96,138.39L673.16,139.00L676.37,139.60L679.58,140.20L682.79,140.78L685.99,141.36L689.20,141.93L692.41,142.49L695.62,143.05L698.82,143.60L702.03,144.15L705.24,144.69L708.45,145.22L711.65,145.75L714.86,146.28L718.07,146.80L721.28,147.33L724.48,147.84L727.69,148.36L730.90,148.87" stroke="#0000ff" stroke-width="1.4" fill="none"/>
</g>
<path d="M30.10,243.85V238.85M30.10,6.30V11.30M55.39,243.85V241.25M55.39,6.30V8.90M80.68,243.85V238.85M80.68,6.30V11.30M105.98,243.85V241.25M105.98,6.30V8.90M131.27,243.85V238.85M131.27,6.30V11.30M156.56,243.85V241.25M156.56,6.30V8.90M181.85,243.85V238.85M181.85,6.30V11.30M207.15,243.85V241.25M207.15,6.30V8.90M232.44,243.85V238.85M232.44,6.30V11.30M257.73,243.85V241.25M257.73,6.30V8.90M283.02,243.85V238.85M283.02,6.30V11.30M308.32,243.85V241.25M308.32,6.30V8.90M333.61,243.85V238.85M333.61,6.30V11.30M358.90,243.85V241.25M358.90,6.30V8.90M30.10,243.85H35.10M358.90,243.85H353.90M30.10,224.05H32.70M358.90,224.05H356.30M30.10,204.26H32.70M358.90,204.26H356.30M30.10,184.46H32.70M358.90,184.46H356.30M30.10,164.67H35.10M358.90,164.67H353.90M30.10,144.87H32.70M358.90,144.87H356.30M30.10,125.08H32.70M358.90,125.08H356.30M30.10,105.28H32.70M358.90,105.28H356.30M30.10,85.48H35.10M358.90,85.48H353.90M30.10,65.69H32.70M358.90,65.69H356.30M30.10,45.89H32.70M358.90,45.89H356.30M30.10,26.10H32.70M358.90,26.10H356.30M30.10,6.30H35.10M358.90,6.30H353.90" stroke="#000" stroke-width="1.4" fill="none"/>
<rect x="30.10" y="6.30" width="328.80" height="237.55" stroke="#000" stroke-width="1.6" fill="none"/>
<path d="M402.10,243.85V238.85M402.10,6.30V11.30M427.39,243.85V241.25M427.39,6.30V8.90M452.68,243.85V238.85M452.68,6.30V11.30M477.98,243.85V241.25M477.98,6.30V8.90M503.27,243.85V238.85M503.27,6.30V11.30M528.56,243.85V241.25M528.56,6.30V8.90M553.85,243.85V238.85M553.85,6.30V11.30M579.15,243.85V241.25M579.15,6.30V8.90M604.44,243.85V238.85M604.44,6.30V11.30M629.73,243.85V241.25M629.73,6.30V8.90M655.02,243.85V238.85M655.02,6.30V11.30M680.32,243.85V241.25M680.32,6.30V8.90M705.61,243.85V238.85M705.61,6.30V11.30M730.90,243.85V241.25M730.90,6.30V8.90M402.10,243.85H407.10M730.90,243.85H725.90M402.10,224.05H404.70M730.90,224.05H728.30M402.10,204.26H404.70M730.90,204.26H728.30M402.10,184.46H404.70M730.90,184.46H728.30M402.10,164.67H407.10M730.90,164.67H725.90M402.10,144.87H404.70M730.90,144.87H728.30M402.10,125.08H404.70M730.90,125.08H728.30M402.10,105.28H404.70M730.90,105.28H728.30M402.10,85.48H407.10M730.90,85.48H725.90M402.10,65.69H404.70M730.90,65.69H728.30M402.10,45.89H404.70M730.90,45.89H728.30M402.10,26.10H404.70M730.90,26.10H728.30M402.10,6.30H407.10M730.90,6.30H725.90" stroke="#000" stroke-width="1.4" fill="none"/>
<rect x="402.10" y="6.30" width="328.80" height="237.55" stroke="#000" stroke-width="1.6" fill="none"/>
<text x="27.10" y="247.00" text-anchor="end" font-size="10.6">0.1</text>
<text x="27.10" y="167.37" text-anchor="end" font-size="10.6">0.2</text>
<text x="27.10" y="88.18" text-anchor="end" font-size="10.6">0.3</text>
<text x="27.10" y="9.40" text-anchor="end" font-size="10.6">0.4</text>
<text x="30.10" y="257.90" text-anchor="middle" font-size="10.6">200</text>
<text x="80.68" y="257.90" text-anchor="middle" font-size="10.6">220</text>
<text x="131.27" y="257.90" text-anchor="middle" font-size="10.6">240</text>
<text x="181.85" y="257.90" text-anchor="middle" font-size="10.6">260</text>
<text x="232.44" y="257.90" text-anchor="middle" font-size="10.6">280</text>
<text x="283.02" y="257.90" text-anchor="middle" font-size="10.6">300</text>
<text x="333.61" y="257.90" text-anchor="middle" font-size="10.6">320</text>
<text x="191.10" y="274.3" text-anchor="middle" font-size="16.5"><tspan font-style="italic">T</tspan> (K)</text>
<text transform="translate(11.20,117.9) rotate(-90)" text-anchor="middle" font-size="15.5" letter-spacing="0.45"><tspan font-style="italic">α</tspan> (nm)</text>
<text x="399.10" y="247.00" text-anchor="end" font-size="10.6">0.1</text>
<text x="399.10" y="167.37" text-anchor="end" font-size="10.6">0.2</text>
<text x="399.10" y="88.18" text-anchor="end" font-size="10.6">0.3</text>
<text x="399.10" y="9.40" text-anchor="end" font-size="10.6">0.4</text>
<text x="402.10" y="257.90" text-anchor="middle" font-size="10.6">200</text>
<text x="452.68" y="257.90" text-anchor="middle" font-size="10.6">220</text>
<text x="503.27" y="257.90" text-anchor="middle" font-size="10.6">240</text>
<text x="553.85" y="257.90" text-anchor="middle" font-size="10.6">260</text>
<text x="604.44" y="257.90" text-anchor="middle" font-size="10.6">280</text>
<text x="655.02" y="257.90" text-anchor="middle" font-size="10.6">300</text>
<text x="705.61" y="257.90" text-anchor="middle" font-size="10.6">320</text>
<text x="563.10" y="274.3" text-anchor="middle" font-size="16.5"><tspan font-style="italic">T</tspan> (K)</text>
<text transform="translate(383.20,117.9) rotate(-90)" text-anchor="middle" font-size="15.5" letter-spacing="0.45"><tspan font-style="italic">α</tspan> (nm)</text>
<text x="332.0" y="30.0" font-size="18.8">(a)</text>
<text x="702.0" y="30.3" font-size="18.8">(b)</text>
<rect x="251.70" y="18.40" width="59.90" height="64.00" fill="#fff" stroke="#000" stroke-width="1.1"/>
<rect x="261.05" y="22.75" width="3.30" height="3.30" fill="none" stroke="#000000" stroke-width="1.5"/>
<text x="274.10" y="27.10" font-size="8">MeOH.exp</text>
<path d="M262.70,32.80L265.35,37.10L260.05,37.10Z" fill="none" stroke="#1e90ff" stroke-width="1.7" stroke-linejoin="round"/>
<text x="274.10" y="37.45" font-size="8">EtOH.exp</text>
<circle cx="262.70" cy="45.40" r="1.80" fill="none" stroke="#ff0000" stroke-width="1.6"/>
<text x="274.10" y="47.80" font-size="8">PrOH.exp</text>
<path d="M262.70,53.10L265.45,55.75L262.70,58.40L259.95,55.75Z" fill="none" stroke="#008000" stroke-width="1.8" stroke-linejoin="round"/>
<text x="274.10" y="58.15" font-size="8">BuOH.exp</text>
<path d="M259.95,63.85L265.45,63.85L262.70,68.75Z" fill="none" stroke="#ff00ff" stroke-width="1.7" stroke-linejoin="round"/>
<text x="274.10" y="68.50" font-size="8">PeOH.exp</text>
<path d="M263.00,74.22L265.33,75.83L264.44,78.43L261.56,78.43L260.67,75.83Z" fill="none" stroke="#0000ff" stroke-width="1.8" stroke-linejoin="round"/>
<text x="274.10" y="78.85" font-size="8">HxOH.exp</text>
<rect x="614.80" y="15.60" width="59.50" height="73.20" fill="#fff" stroke="#000" stroke-width="1.1"/>
<rect x="623.20" y="19.60" width="4.60" height="4.60" fill="#000000"/>
<text x="637.20" y="24.00" font-size="8">MeOH.exp</text>
<circle cx="625.50" cy="31.55" r="2.70" fill="#ff0000"/>
<text x="637.20" y="34.35" font-size="8">EtOH.exp</text>
<path d="M625.50,38.40L629.00,44.40L622.00,44.40Z" fill="#40abfa"/>
<text x="637.20" y="44.70" font-size="8">PrOH.exp</text>
<path d="M622.30,50.15L628.70,50.15L625.50,55.95Z" fill="#008000"/>
<text x="637.20" y="55.05" font-size="8">BuOH.exp</text>
<path d="M625.50,59.80L628.90,63.20L625.50,66.60L622.10,63.20Z" fill="#ff00ff"/>
<text x="637.20" y="65.40" font-size="8">PeOH.exp</text>
<path d="M621.50,73.45L627.50,70.25L627.50,76.65Z" fill="#0000ff"/>
<text x="637.20" y="75.75" font-size="8">HxOH.exp</text>
<text x="615.9" y="86.2" font-size="8" word-spacing="1.4">lines: T&gt;260</text>
</svg>
</body></html>
